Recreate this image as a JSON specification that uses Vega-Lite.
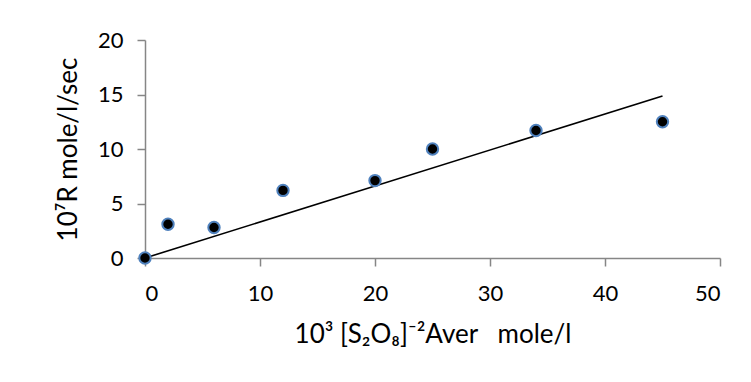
{
  "$schema": "https://vega.github.io/schema/vega-lite/v6.json",
  "width": 575,
  "height": 218,
  "autosize": "none",
  "padding": {"left": 145, "top": 40, "right": 31, "bottom": 124},
  "background": "white",
  "config": {
    "view": {"stroke": null},
    "font": "Lato",
    "axis": {
      "grid": false,
      "domainColor": "#868686",
      "domainWidth": 1.5,
      "tickColor": "#868686",
      "tickWidth": 1.5,
      "tickSize": 8,
      "labelFontSize": 22,
      "labelColor": "black",
      "titleFontSize": 26,
      "titleFontWeight": "normal",
      "titleColor": "black"
    }
  },
  "layer": [
    {
      "data": {"values": [{"x": 0, "y": 0}, {"x": 45, "y": 14.86}]},
      "mark": {"type": "line", "color": "black", "strokeWidth": 1.6},
      "encoding": {
        "x": {"field": "x", "type": "quantitative", "scale": {"domain": [0, 50], "nice": false},
              "axis": {"values": [0, 10, 20, 30, 40, 50], "labelPadding": 17, "titlePadding": 17,
                       "title": "10³ [S₂O₈]⁻²Aver\u00a0\u00a0 mole/l"}},
        "y": {"field": "y", "type": "quantitative", "scale": {"domain": [0, 20], "nice": false},
              "axis": {"values": [0, 5, 10, 15, 20], "labelPadding": 14, "titlePadding": 16,
                       "title": "10⁷R mole/l/sec"}}
      }
    },
    {
      "data": {"values": [
        {"x": 0, "y": 0},
        {"x": 2, "y": 3.1},
        {"x": 6, "y": 2.8},
        {"x": 12, "y": 6.2},
        {"x": 20, "y": 7.1},
        {"x": 25, "y": 10.0},
        {"x": 34, "y": 11.7},
        {"x": 45, "y": 12.5}
      ]},
      "mark": {"type": "point", "shape": "circle", "filled": true, "fill": "black", "stroke": "#4f81bd", "strokeWidth": 2, "size": 130, "opacity": 1},
      "encoding": {
        "x": {"field": "x", "type": "quantitative"},
        "y": {"field": "y", "type": "quantitative"}
      }
    }
  ]
}
